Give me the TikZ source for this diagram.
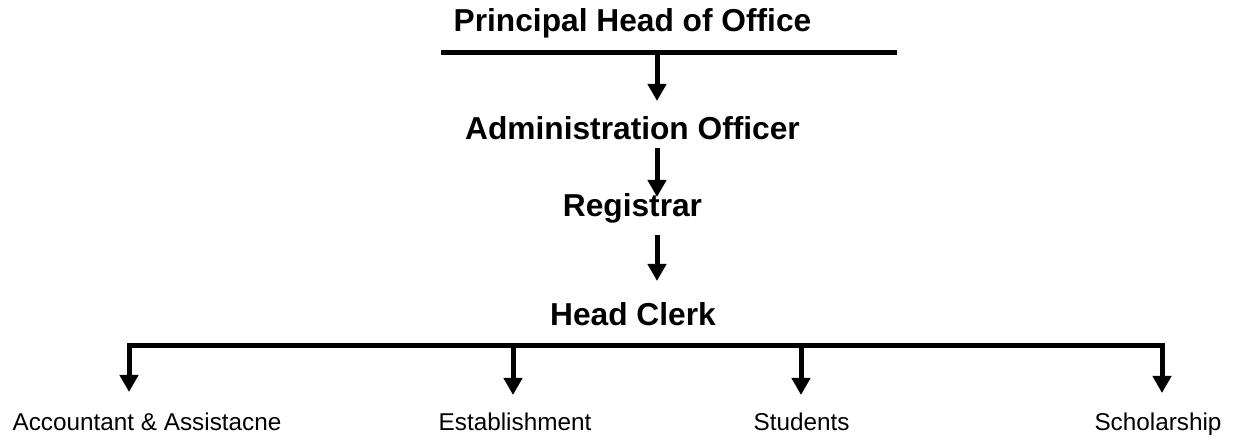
\documentclass[tikz,border=0pt]{standalone}
\usepackage{fontspec}
\setmainfont{Liberation Sans}
\usetikzlibrary{arrows.meta}
\begin{document}
\begin{tikzpicture}[x=1pt,y=-1pt,
  title/.style={font=\fontsize{31.7}{36}\selectfont\bfseries, inner sep=0pt, anchor=base},
  leaf/.style={font=\fontsize{24.3}{28}\selectfont, inner sep=0pt, anchor=base},
  bar/.style={line width=5pt},
  conn/.style={line width=5pt, -{Triangle[width=18pt,length=17pt]}},
  dconn/.style={line width=5pt, {Triangle[width=18pt,length=17pt]}-{Triangle[width=18pt,length=17pt]}}]
\useasboundingbox (0,0) rectangle (1235,438);
% texts
\node[title] (p) at (632.5,32) {Principal Head of Office};
\node[title] (a) at (632.5,140) {Administration Officer};
\node[title] (r) at (632.5,217) {Registrar};
\node[title] (h) at (633,326) {Head Clerk};
\node[leaf] (l1) at (147,431) {Accountant \& Assistacne};
\node[leaf] (l2) at (515,430) {Establishment};
\node[leaf] (l3) at (801.5,430) {Students};
\node[leaf] (l4) at (1158,430) {Scholarship};
% coordinates
\coordinate (tl) at (441,53);
\coordinate (tr) at (897,53);
\coordinate (t0) at (657,53);
\coordinate (t1) at (657,101);
\coordinate (t2) at (657,148);
\coordinate (t3) at (657,197);
\coordinate (t4) at (657,235);
\coordinate (t5) at (657,281);
\coordinate (b1) at (129,346);
\coordinate (b2) at (513,346);
\coordinate (b3) at (801,346);
\coordinate (b4) at (1162,346);
\coordinate (e1) at (129,392);
\coordinate (e2) at (513,395);
\coordinate (e3) at (801,395);
\coordinate (e4) at (1162,393);
% top line and vertical arrows
\draw[bar] (tl) -- (tr);
\draw[conn] (t0) -- (t1);
\draw[conn] (t2) -- (t3);
\draw[conn] (t4) -- (t5);
% bottom bar
\draw[dconn] (e1) -- (b1) -- (b4) -- (e4);
\draw[conn] (b2) -- (e2);
\draw[conn] (b3) -- (e3);
\end{tikzpicture}
\end{document}
